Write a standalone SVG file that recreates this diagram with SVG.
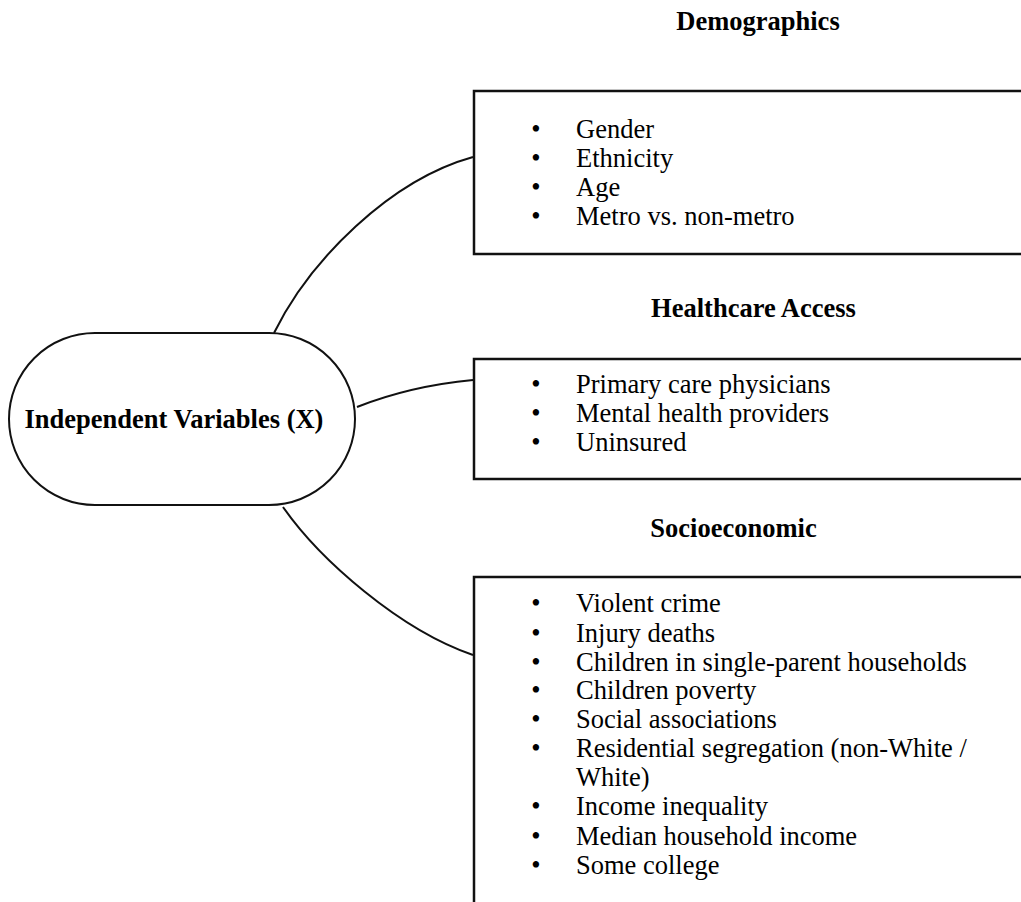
<svg xmlns="http://www.w3.org/2000/svg" width="1021" height="902" viewBox="0 0 1021 902">
<style>
.hdr{font-family:"Liberation Serif","Times New Roman",serif;font-weight:bold;font-size:26.5px;fill:#000;text-anchor:middle}
.item{font-family:"Liberation Serif","Times New Roman",serif;font-size:26.5px;fill:#000}
.bul{font-family:"Liberation Serif","Times New Roman",serif;font-size:26.5px;fill:#000;text-anchor:middle}
.box{fill:#fff;stroke:#111;stroke-width:2.5}
.conn{fill:none;stroke:#111;stroke-width:2}
</style>
<rect width="1021" height="902" fill="#fff"/>
<g id="connectors">
<path class="conn" d="M274,333 C310,260 390,180 473,157"/>
<path class="conn" d="M357,407 Q410,386 473,380"/>
<path class="conn" d="M283,507 C320,560 400,630 473,655"/>
</g>
<g id="independent">
<rect x="9" y="333" width="346" height="172" rx="86" ry="86" fill="#fff" stroke="#111" stroke-width="2"/>
<text class="hdr" x="174" y="428">Independent Variables (X)</text>
</g>
<g id="demographics">
<text class="hdr" x="758" y="30">Demographics</text>
<rect class="box" x="474" y="91" width="560" height="163"/>
<text class="bul" x="536" y="138">•</text><text class="item" x="576" y="138">Gender</text>
<text class="bul" x="536" y="167">•</text><text class="item" x="576" y="167">Ethnicity</text>
<text class="bul" x="536" y="196">•</text><text class="item" x="576" y="196">Age</text>
<text class="bul" x="536" y="225">•</text><text class="item" x="576" y="225">Metro vs. non-metro</text>
</g>
<g id="healthcare">
<text class="hdr" x="753.5" y="317">Healthcare Access</text>
<rect class="box" x="474" y="359" width="560" height="120"/>
<text class="bul" x="536" y="393">•</text><text class="item" x="576" y="393">Primary care physicians</text>
<text class="bul" x="536" y="422">•</text><text class="item" x="576" y="422">Mental health providers</text>
<text class="bul" x="536" y="451">•</text><text class="item" x="576" y="451">Uninsured</text>
</g>
<g id="socioeconomic">
<text class="hdr" x="733.5" y="537">Socioeconomic</text>
<rect class="box" x="474" y="577" width="560" height="340"/>
<text class="bul" x="536" y="612">•</text><text class="item" x="576" y="612">Violent crime</text>
<text class="bul" x="536" y="642">•</text><text class="item" x="576" y="642">Injury deaths</text>
<text class="bul" x="536" y="671">•</text><text class="item" x="576" y="671">Children in single-parent households</text>
<text class="bul" x="536" y="699">•</text><text class="item" x="576" y="699">Children poverty</text>
<text class="bul" x="536" y="728">•</text><text class="item" x="576" y="728">Social associations</text>
<text class="bul" x="536" y="757">•</text><text class="item" x="576" y="757">Residential segregation (non-White /</text>
<text class="item" x="576" y="786">White)</text>
<text class="bul" x="536" y="815">•</text><text class="item" x="576" y="815">Income inequality</text>
<text class="bul" x="536" y="845">•</text><text class="item" x="576" y="845">Median household income</text>
<text class="bul" x="536" y="874">•</text><text class="item" x="576" y="874">Some college</text>
</g>
</svg>
